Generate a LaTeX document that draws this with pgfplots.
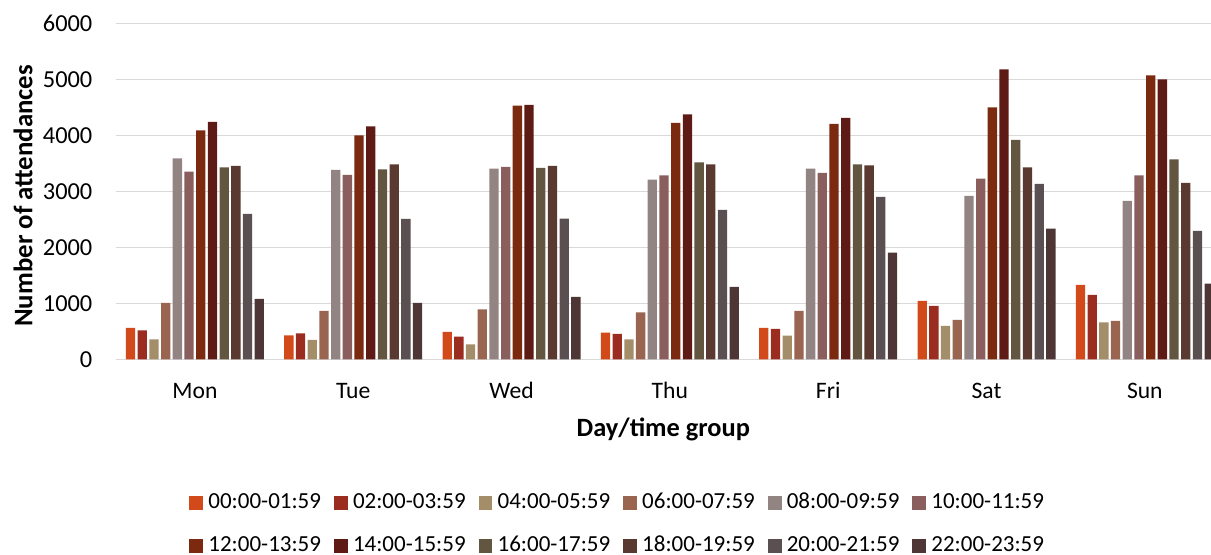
\documentclass[border=0pt]{standalone}
\usepackage{pgfplots}
\usepackage{pgfplotstable}
\usepackage{fontspec}
\setmainfont{Carlito}
\pgfplotsset{compat=1.18}

\definecolor{gridgray}{HTML}{D9D9D9}
\definecolor{cA}{HTML}{D24A1A}
\definecolor{cB}{HTML}{9B2D20}
\definecolor{cC}{HTML}{A48E6A}
\definecolor{cD}{HTML}{996450}
\definecolor{cE}{HTML}{928483}
\definecolor{cF}{HTML}{8A5E5C}
\definecolor{cG}{HTML}{7B2A0F}
\definecolor{cH}{HTML}{5E1A14}
\definecolor{cI}{HTML}{625640}
\definecolor{cJ}{HTML}{5A3A30}
\definecolor{cK}{HTML}{5A4F51}
\definecolor{cL}{HTML}{4E3536}

% attendances per day (rows) and two-hour time group (columns)
\pgfplotstableread{
x  t00  t02  t04  t06  t08  t10  t12  t14  t16  t18  t20  t22
0  560  518  357  1006 3589 3351 4089 4238 3429 3452 2595 1077
1  429  464  345  863  3381 3292 4000 4161 3393 3482 2506 1006
2  488  405  268  893  3405 3435 4530 4542 3417 3452 2512 1113
3  476  452  357  839  3208 3286 4220 4375 3518 3482 2667 1292
4  560  542  423  863  3405 3327 4202 4310 3482 3464 2899 1905
5  1042 952  595  702  2917 3226 4500 5179 3917 3429 3131 2333
6  1327 1149 661  685  2827 3286 5071 5000 3571 3149 2292 1351
}\attend

\newcommand{\lab}[1]{\makebox[59pt][l]{#1}}

\begin{document}
\fontsize{11.5}{14}\selectfont
\begin{tikzpicture}
\path[use as bounding box] (-57.875pt,-97.85pt) rectangle (547.625pt,179.65pt);
\begin{axis}[
  at={(0,0)}, anchor=south west,
  scale only axis,
  width=547.625pt, height=168pt,
  xmin=-0.5, xmax=6.418,
  ymin=0, ymax=6000,
  ybar=1.2pt, bar width=4.65pt,
  xtick={0,...,6},
  xticklabels={Mon,Tue,Wed,Thu,Fri,Sat,Sun},
  ytick={0,1000,...,6000},
  major tick length=0pt,
  /pgf/number format/assume math mode=true,
  /pgf/number format/1000 sep={},
  separate axis lines,
  axis x line*=bottom,
  axis y line*=left,
  y axis line style={draw=none},
  x axis line style={draw=gridgray, line width=0.75pt, -},
  ymajorgrids,
  grid style={gridgray, line width=0.75pt},
  yticklabel style={anchor=east, inner sep=0pt, xshift=-11.5pt, font=\fontsize{12.2}{14}\selectfont},
  xticklabel style={anchor=base, inner sep=0pt, yshift=-19.5pt, font=\fontsize{11.8}{14}\selectfont},
  xlabel={Day/time group},
  ylabel={Number of attendances},
  every axis x label/.style={at={(axis description cs:0.5,0)}, anchor=base, inner sep=0pt, yshift=-38.7pt, font=\fontsize{13.2}{15}\selectfont\bfseries},
  every axis y label/.style={at={(axis description cs:-0.0847,0.4866)}, anchor=center, rotate=90, inner sep=0pt, font=\fontsize{13.4}{15}\selectfont\bfseries},
  legend columns=6,
  legend image code/.code={\fill[#1] (0pt,-3.42pt) rectangle (6.85pt,3.42pt);},
  legend style={
    draw=none, fill=none, inner sep=0pt,
    at={(axis description cs:0.0669,-0.491)}, anchor=west,
    nodes={inner sep=0pt, anchor=west, text height=7.6pt, text depth=1.4pt},
    /tikz/every odd column/.append style={column sep=2.65pt},
    /tikz/every even column/.append style={column sep=3.8pt},
    row sep=12.5pt,
  },
  legend cell align=left,
  every axis plot/.append style={draw=none},
]
\addplot[fill=cA] table[x=x,y=t00] {\attend};
\addplot[fill=cB] table[x=x,y=t02] {\attend};
\addplot[fill=cC] table[x=x,y=t04] {\attend};
\addplot[fill=cD] table[x=x,y=t06] {\attend};
\addplot[fill=cE] table[x=x,y=t08] {\attend};
\addplot[fill=cF] table[x=x,y=t10] {\attend};
\addplot[fill=cG] table[x=x,y=t12] {\attend};
\addplot[fill=cH] table[x=x,y=t14] {\attend};
\addplot[fill=cI] table[x=x,y=t16] {\attend};
\addplot[fill=cJ] table[x=x,y=t18] {\attend};
\addplot[fill=cK] table[x=x,y=t20] {\attend};
\addplot[fill=cL] table[x=x,y=t22] {\attend};
\legend{\lab{00:00-01:59},\lab{02:00-03:59},\lab{04:00-05:59},\lab{06:00-07:59},\lab{08:00-09:59},\lab{10:00-11:59},
        \lab{12:00-13:59},\lab{14:00-15:59},\lab{16:00-17:59},\lab{18:00-19:59},\lab{20:00-21:59},\lab{22:00-23:59}}
\end{axis}
\end{tikzpicture}
\end{document}
